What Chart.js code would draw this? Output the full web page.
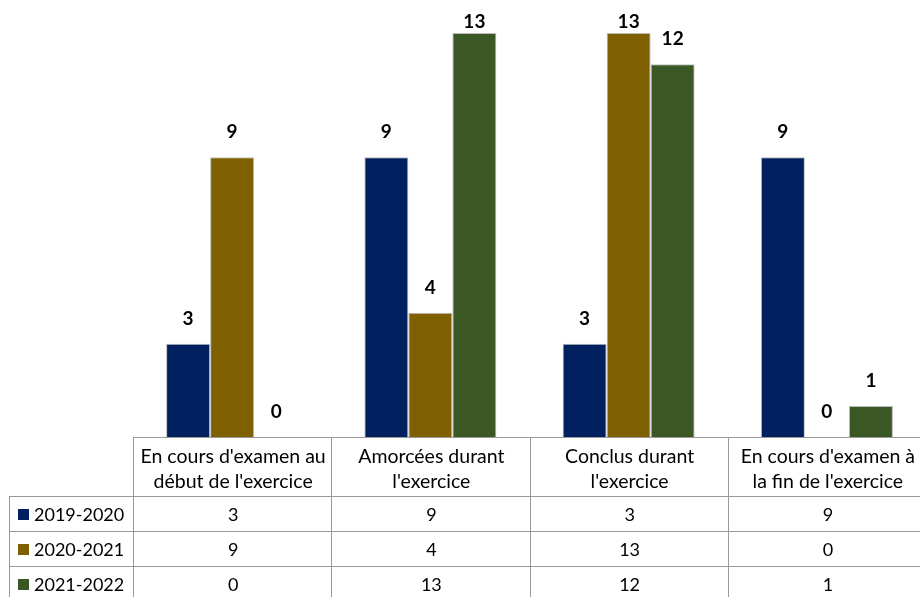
<!DOCTYPE html>
<html lang="fr">
<head>
<meta charset="utf-8">
<script src="https://cdn.jsdelivr.net/npm/chart.js@4/dist/chart.umd.min.js"></script>
<style>
  html, body { margin: 0; padding: 0; background: #fff; overflow: hidden; width: 920px; height: 597px; }
  #wrap { position: relative; width: 926px; height: 597px; }
  #chart { position: absolute; left: 0; top: 0; }
  .cell {
    position: absolute; box-sizing: border-box;
    border-top: 1px solid #9a9a9a; border-left: 1px solid #9a9a9a;
    font-family: Lato, "Open Sans", sans-serif; font-size: 18px; color: #000;
    display: flex; align-items: center; justify-content: center; text-align: center;
    line-height: 25px; white-space: nowrap;
  }
  .cell.head { font-size: 19.5px; }
  .cell.legend { justify-content: flex-start; padding-left: 8px; }
  .key { display: inline-block; width: 11px; height: 11px; margin-right: 5px; }
</style>
</head>
<body>
<div id="wrap">
  <canvas id="chart" width="926" height="597"></canvas>
</div>
<script>
// Categories (each label split into its two printed lines)
const categories = [
  ["En cours d'examen au", "début de l'exercice"],
  ["Amorcées durant", "l'exercice"],
  ["Conclus durant", "l'exercice"],
  ["En cours d'examen à", "la fin de l'exercice"]
];
const seriesNames = ["2019-2020", "2020-2021", "2021-2022"];
const values2019 = [3, 9, 3, 9];
const values2020 = [9, 4, 13, 0];
const values2021 = [0, 13, 12, 1];
const seriesColors = ["#00205f", "#7f6000", "#3a5724"];

const seriesValues = [values2019, values2020, values2021];

// Bold value labels above each bar, kept inside the plot area
const valueLabels = {
  id: 'valueLabels',
  afterDatasetsDraw(chart) {
    const ctx = chart.ctx;
    const area = chart.chartArea;
    ctx.save();
    ctx.font = 'bold 19px Lato, "Open Sans", sans-serif';
    ctx.fillStyle = '#000';
    ctx.textAlign = 'center';
    ctx.textBaseline = 'middle';
    chart.data.datasets.forEach((ds, di) => {
      chart.getDatasetMeta(di).data.forEach((bar, i) => {
        const y = Math.max(bar.y - 25, area.top + 20);
        ctx.fillText(String(ds.data[i]), bar.x, y);
      });
    });
    ctx.restore();
  }
};

// Data table under the plot, aligned on the category scale
const dataTable = {
  id: 'dataTable',
  afterRender(chart) {
    if (chart._tableBuilt) return;
    chart._tableBuilt = true;
    const wrap = document.getElementById('wrap');
    const area = chart.chartArea;
    const x = chart.scales.x;
    const n = categories.length;
    const catW = (area.right - area.left) / n;
    const top = area.bottom;
    const headH = 59, rowH = 35;
    const legendLeft = 9;

    function cell(left, topPx, w, h, cls) {
      const d = document.createElement('div');
      d.className = 'cell' + (cls ? ' ' + cls : '');
      d.style.left = left + 'px';
      d.style.top = topPx + 'px';
      d.style.width = (w + 1) + 'px';
      d.style.height = (h + 1) + 'px';
      wrap.appendChild(d);
      return d;
    }

    categories.forEach((lines, i) => {
      const left = x.getPixelForValue(i) - catW / 2;
      const d = cell(left, top, catW, headH, 'head');
      lines.forEach((s, k) => {
        if (k) d.appendChild(document.createElement('br'));
        d.appendChild(document.createTextNode(s));
      });
    });

    seriesNames.forEach((name, r) => {
      const rowTop = top + headH + r * rowH;
      const lg = cell(legendLeft, rowTop, area.left - legendLeft, rowH, 'legend');
      const key = document.createElement('span');
      key.className = 'key';
      key.style.background = seriesColors[r];
      lg.appendChild(key);
      lg.appendChild(document.createTextNode(name));
      seriesValues[r].forEach((v, i) => {
        const left = x.getPixelForValue(i) - catW / 2;
        const d = cell(left, rowTop, catW, rowH);
        d.textContent = String(v);
      });
    });
  }
};

new Chart(document.getElementById('chart'), {
  type: 'bar',
  data: {
    labels: categories,
    datasets: seriesNames.map((name, i) => ({
      label: name,
      data: seriesValues[i],
      backgroundColor: seriesColors[i],
      borderColor: 'rgba(170,170,170,0.8)',
      borderWidth: 1,
      categoryPercentage: 0.666,
      barPercentage: 1
    }))
  },
  options: {
    responsive: false,
    animation: false,
    layout: { padding: { left: 133, right: 0, top: 2, bottom: 160 } },
    plugins: { legend: { display: false }, tooltip: { enabled: false } },
    scales: {
      x: { display: false },
      y: { display: false, min: 0, max: 14 }
    }
  },
  plugins: [valueLabels, dataTable]
});
</script>
</body>
</html>
